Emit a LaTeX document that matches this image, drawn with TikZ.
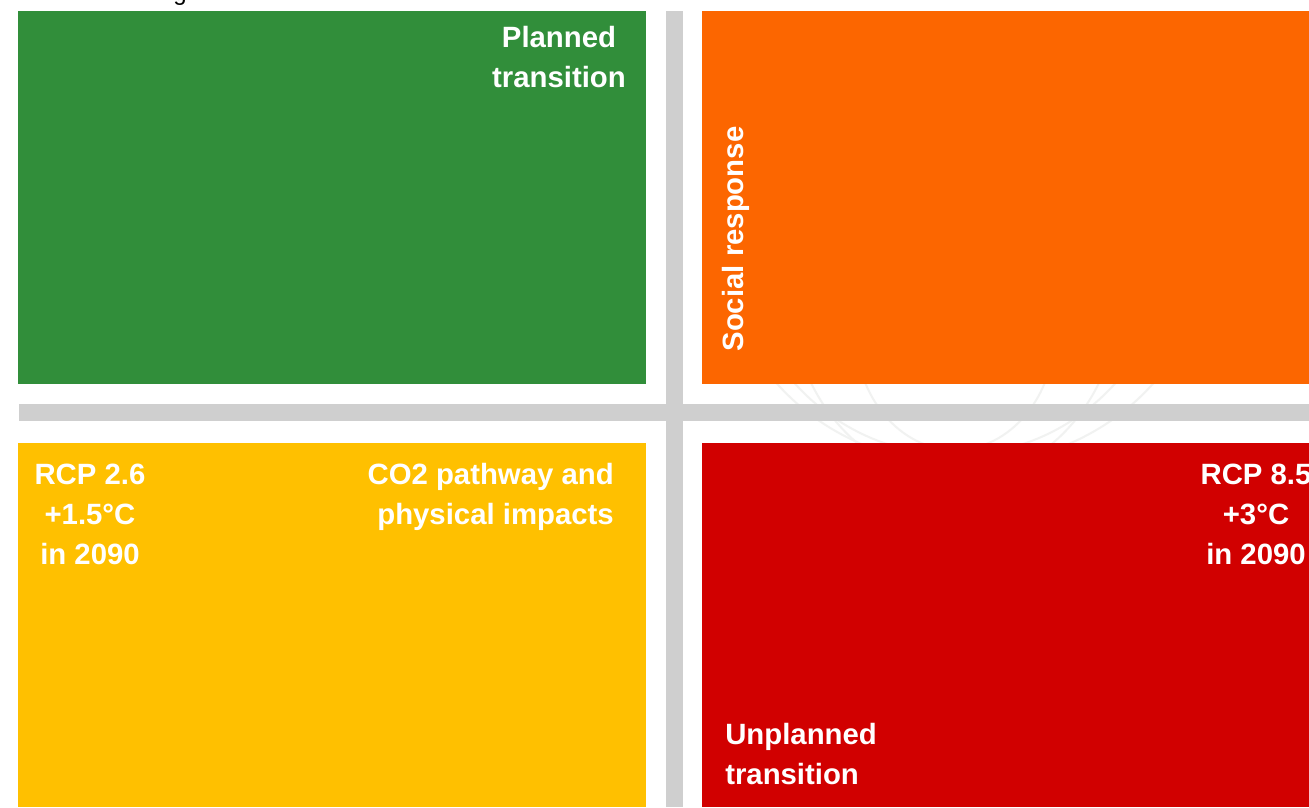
\documentclass[tikz,border=0pt]{standalone}
\usepackage{fontspec}
\setmainfont{Liberation Sans}
\definecolor{cgreen}{HTML}{318E3A}
\definecolor{corange}{HTML}{FC6600}
\definecolor{cyellow}{HTML}{FFC000}
\definecolor{cred}{HTML}{D10000}
\definecolor{cbar}{HTML}{CFCFCF}
\definecolor{cwm}{HTML}{F1F2F1}
\tikzset{
  lbl/.style={text=white,font=\fontsize{22}{30}\selectfont\bfseries,inner sep=0pt},
  wm/.style={draw=cwm,line width=1.5pt}
}
\begin{document}
\begin{tikzpicture}[x=0.75pt,y=-0.75pt]
\useasboundingbox (0,0) rectangle (1309,807);
\fill[white] (0,0) rectangle (1309,807);
% faint watermark
\draw[wm] (955,240) circle (215);
\draw[wm] (955,330) ellipse (100 and 120);
\draw[wm] (955,290) ellipse (165 and 190);
\draw[wm] (965,250) ellipse (240 and 215);
% cut title descender
\node[anchor=base,font=\fontsize{18}{20}\selectfont,text=black,inner sep=0pt] (title) at (180,0) {g};
% bars
\fill[cbar] (666,11) rectangle (683,807);
\fill[cbar] (19,404) rectangle (1309,421);
% panels
\fill[cgreen] (18,11) rectangle (646,384);
\fill[corange] (702,11) rectangle (1309,384);
\fill[cyellow] (18,443) rectangle (646,807);
\fill[cred] (702,443) rectangle (1309,807);
% labels
\node[lbl,align=center] (planned) at (559,57) {Planned\\transition};
\node[lbl,rotate=90] (social) at (736,239) {Social response};
\node[lbl,align=center] (rcp26) at (90,514) {RCP 2.6\\+1.5°C\\in 2090};
\node[lbl,align=right,anchor=east] (co2) at (614,497) {CO2 pathway and\\physical impacts};
\node[lbl,align=center] (rcp85) at (1256,514) {RCP 8.5\\+3°C\\in 2090};
\node[lbl,align=left,anchor=west] (unpl) at (725,754) {Unplanned\\transition};
\end{tikzpicture}
\end{document}
